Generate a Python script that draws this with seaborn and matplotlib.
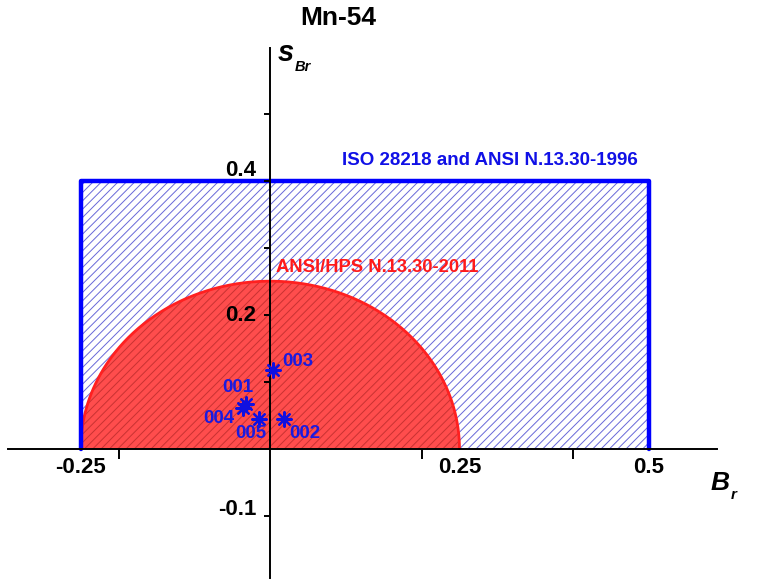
import numpy as np
import pandas as pd
import matplotlib
matplotlib.use("Agg")
import matplotlib.pyplot as plt
import seaborn as sns

# ---- data ----
sample_ids = ["001", "002", "003", "004", "005"]
bias_r = [-0.032, 0.018, 0.004, -0.036, -0.015]
s_br = [0.066, 0.045, 0.118, 0.060, 0.045]
label_offsets = [(-8, 17), (21, -15), (25, 8), (-24, -10), (-8, -15)]  # pixels

iso_bias_limits = [-0.25, 0.5]
iso_s_limit = 0.4
ansi2011_radius = 0.25

x_tick_labels = [-0.25, 0.25, 0.5]
x_tick_marks = [-0.2, 0.2, 0.4]
y_tick_labels = [0.4, 0.2, -0.1]
y_tick_marks = [-0.1, 0.1, 0.2, 0.3, 0.4, 0.5]

sns.set_style("white")
plt.rcParams["font.family"] = ["Liberation Sans", "DejaVu Sans"]
plt.rcParams["hatch.linewidth"] = 0.7
plt.rcParams["text.color"] = "black"

W, H = 759, 587
fig = plt.figure(figsize=(W / 100, H / 100), dpi=100)
ax_l, ax_r, ax_t, ax_b = 8, 717, 48, 578
ax = fig.add_axes([ax_l / W, 1 - ax_b / H, (ax_r - ax_l) / W, (ax_b - ax_t) / H])
ax.set_xlim(-0.346, 0.59)
ax.set_ylim(-0.193, 0.598)

# ISO rectangle (hatched)
xr = np.array(iso_bias_limits)
ax.fill_between(xr, 0, iso_s_limit, facecolor="white", edgecolor="#6868d8",
                hatch="////", linewidth=0, zorder=1)

# ANSI/HPS 2011 semicircle
theta = np.linspace(0, np.pi, 400)
cx = ansi2011_radius * np.cos(theta)
cy = ansi2011_radius * np.sin(theta)
ax.fill_between(cx, 0, cy, facecolor="#ff4d4d", edgecolor="#c83232",
                hatch="////", linewidth=0, zorder=1.2)
circ = pd.DataFrame({"x": cx, "y": cy})
sns.lineplot(data=circ, x="x", y="y", sort=False, color="#ff2020", lw=2,
             ax=ax, zorder=1.3, estimator=None)

# rectangle outline
rect = pd.DataFrame({"x": [xr[0], xr[0], xr[1], xr[1]],
                     "y": [0, iso_s_limit, iso_s_limit, 0]})
sns.lineplot(data=rect, x="x", y="y", sort=False, color="#0000ff", lw=3.2,
             ax=ax, zorder=1.5, estimator=None)

# points
pts = pd.DataFrame({"id": sample_ids, "x": bias_r, "y": s_br})
sns.scatterplot(data=pts, x="x", y="y", marker=(8, 2, 0), s=110,
                color="#1010e0", linewidth=1.6, ax=ax, zorder=5)
for sid, x, y, off in zip(sample_ids, bias_r, s_br, label_offsets):
    ax.annotate(sid, (x, y), xytext=off, textcoords="offset pixels",
                ha="center", va="center", color="#1a1ae0",
                fontsize=13.5, fontweight="bold", zorder=6)

ax.text(0.095, 0.43, "ISO 28218 and ANSI N.13.30-1996", color="#1010e6",
        fontsize=13.5, fontweight="bold", ha="left", va="center")
ax.text(0.008, 0.27, "ANSI/HPS N.13.30-2011", color="#ff1a1a",
        fontsize=13.2, fontweight="bold", ha="left", va="center")

# axes through origin
for s in ["top", "right"]:
    ax.spines[s].set_visible(False)
ax.spines["left"].set_position(("data", 0))
ax.spines["bottom"].set_position(("data", 0))
for s in ["left", "bottom"]:
    ax.spines[s].set_linewidth(1.4)
    ax.spines[s].set_color("black")
    ax.spines[s].set_zorder(3)
ax.set_xlabel("")
ax.set_ylabel("")
ax.set_xticks(x_tick_marks)
ax.set_xticklabels([])
ax.set_yticks(y_tick_marks)
ax.set_yticklabels([])
ax.tick_params(axis="x", bottom=True, direction="out", length=7, width=1.4,
               color="black")
ax.tick_params(axis="y", left=True, direction="out", length=4, width=1.4,
               color="black")
ax.set_axisbelow(False)

# tick labels as text
for v in x_tick_labels:
    ax.annotate(f"{v:g}", (v, 0), xytext=(0, -19), textcoords="offset pixels",
                ha="center", va="center", fontsize=16, fontweight="bold")
y_offsets = {0.4: 10, 0.2: -1, -0.1: 6}
for v in y_tick_labels:
    ax.annotate(f"{v:g}", (0, v), xytext=(-14, y_offsets[v]),
                textcoords="offset pixels", ha="right", va="center",
                fontsize=16, fontweight="bold")

# title and axis labels
fig.text(338 / W, 1 - 18 / H, "Mn-54", ha="center", va="center",
         fontsize=19, fontweight="bold")
fig.text(720 / W, 1 - 483 / H, "B", ha="center", va="center",
         fontsize=19, fontweight="bold", style="italic")
fig.text(734 / W, 1 - 495 / H, "r", ha="center", va="center",
         fontsize=11, fontweight="bold", style="italic")
fig.text(286 / W, 1 - 53 / H, "s", ha="center", va="center",
         fontsize=21, fontweight="bold", style="italic")
fig.text(303 / W, 1 - 67 / H, "Br", ha="center", va="center",
         fontsize=10.5, fontweight="bold", style="italic")

fig.savefig("out.png", dpi=100)
